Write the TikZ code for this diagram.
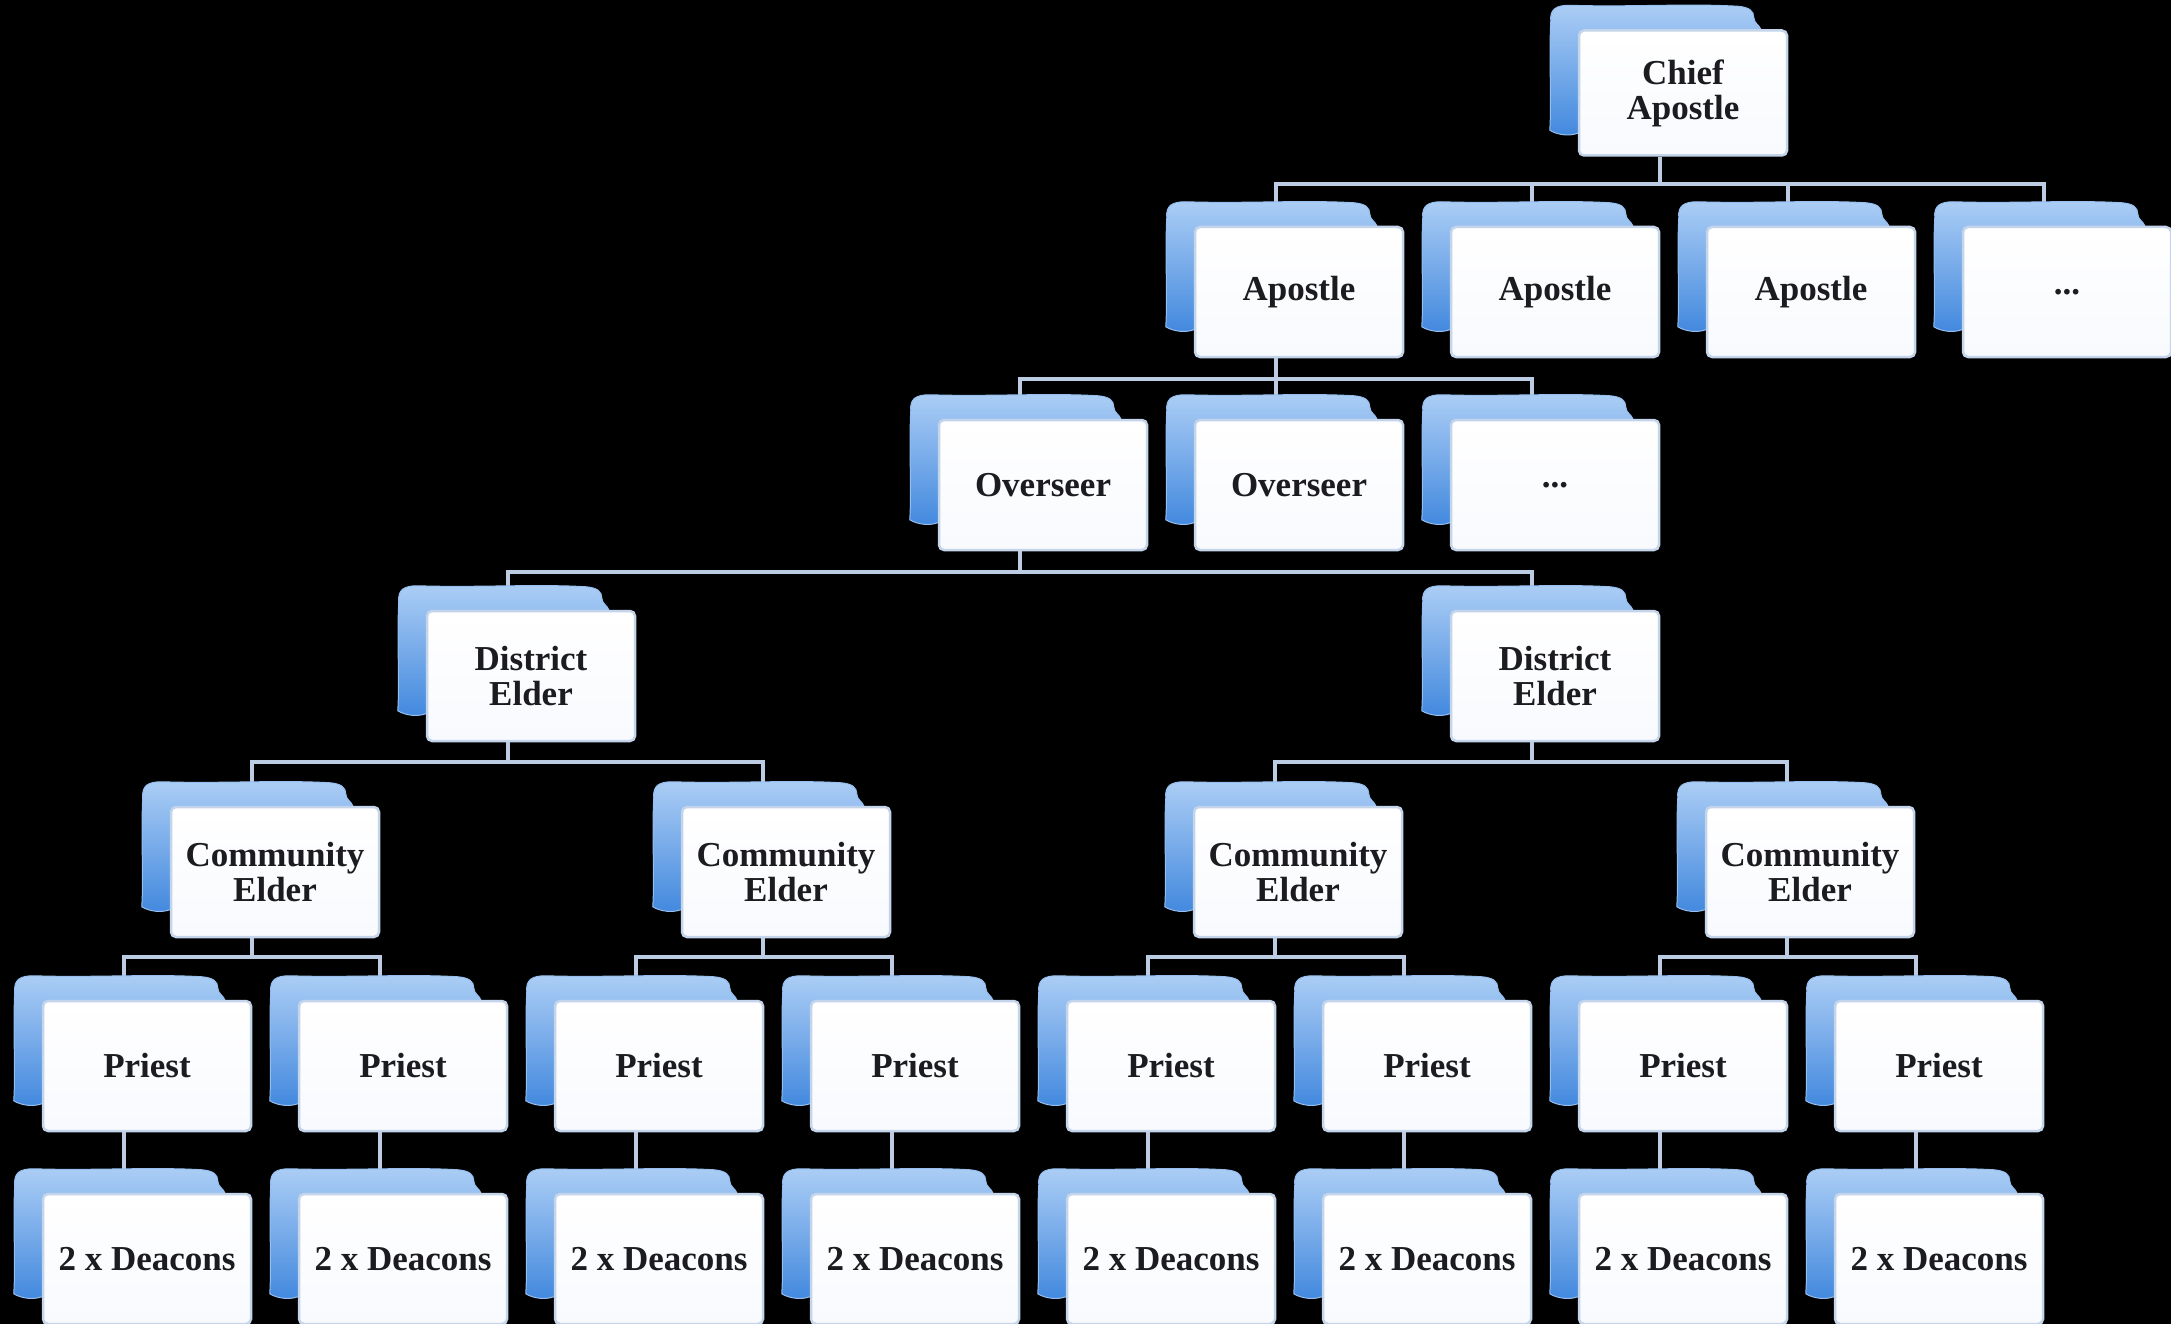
\documentclass[tikz,border=0pt]{standalone}
\usepackage{fontspec}
\setmainfont{Liberation Serif}
\definecolor{conncol}{RGB}{188,204,226}
\definecolor{cardedge}{RGB}{196,212,234}
\definecolor{cardfill}{RGB}{248,250,254}
\definecolor{backtop}{RGB}{172,206,245}
\definecolor{backbot}{RGB}{66,136,222}
\definecolor{backedge}{RGB}{150,190,238}
\definecolor{txt}{RGB}{28,28,32}
\pgfdeclarelayer{bg}
\pgfsetlayers{bg,main}
\newcommand\linkto[3][22]{\draw[conn] ([xshift=-23pt]#2.south) -- ++(0,#1) -| ([xshift=-23pt,yshift=23pt]#3.north);}
\newcommand\linkdown[2]{\draw[conn] ([xshift=-23pt]#1.south) -- ([xshift=-23pt,yshift=23pt]#2.north);}
\begin{document}
\begin{tikzpicture}[x=1pt,y=-1pt,
  card/.style={draw=cardedge, line width=2.5pt, rounded corners=5pt, top color=white, bottom color=cardfill,
    minimum width=208pt, minimum height=130pt, inner sep=0pt, align=center,
    font=\fontsize{35}{35}\selectfont\bfseries, text=txt},
  conn/.style={draw=conncol, line width=4pt},
  backsh/.style={top color=backtop, bottom color=backbot, draw=backedge, line width=1pt}]
\useasboundingbox (0,0) rectangle (2171,1324);
\begin{pgfonlayer}{bg}
\fill[black] (0,0) rectangle (2171,1324);
\end{pgfonlayer}
% row 0
\node[card, minimum height=125pt] (chief) at (1683,93) {Chief\\Apostle};
% row 1
\node[card] (a1) at (1299,292) {Apostle};
\node[card] (a2) at (1555,292) {Apostle};
\node[card] (a3) at (1811,292) {Apostle};
\node[card] (a4) at (2067,292) {...};
% row 2
\node[card] (o1) at (1043,485) {Overseer};
\node[card] (o2) at (1299,485) {Overseer};
\node[card] (o3) at (1555,485) {...};
% row 3
\node[card] (d1) at (531,676) {District\\Elder};
\node[card] (d2) at (1555,676) {District\\Elder};
% row 4
\node[card] (c1) at (275,872) {Community\\Elder};
\node[card] (c2) at (786,872) {Community\\Elder};
\node[card] (c3) at (1298,872) {Community\\Elder};
\node[card] (c4) at (1810,872) {Community\\Elder};
% row 5
\node[card] (p1) at (147,1066) {Priest};
\node[card] (p2) at (403,1066) {Priest};
\node[card] (p3) at (659,1066) {Priest};
\node[card] (p4) at (915,1066) {Priest};
\node[card] (p5) at (1171,1066) {Priest};
\node[card] (p6) at (1427,1066) {Priest};
\node[card] (p7) at (1683,1066) {Priest};
\node[card] (p8) at (1939,1066) {Priest};
% row 6
\node[card] (q1) at (147,1259) {2 x Deacons};
\node[card] (q2) at (403,1259) {2 x Deacons};
\node[card] (q3) at (659,1259) {2 x Deacons};
\node[card] (q4) at (915,1259) {2 x Deacons};
\node[card] (q5) at (1171,1259) {2 x Deacons};
\node[card] (q6) at (1427,1259) {2 x Deacons};
\node[card] (q7) at (1683,1259) {2 x Deacons};
\node[card] (q8) at (1939,1259) {2 x Deacons};
\begin{pgfonlayer}{bg}
% connectors
\foreach \c in {a1,a2,a3,a4} {\linkto[27]{chief}{\c}}
\foreach \c in {o1,o2,o3} {\linkto[21]{a1}{\c}}
\foreach \c in {d1,d2} {\linkto[21]{o1}{\c}}
\foreach \c in {c1,c2} {\linkto[20]{d1}{\c}}
\foreach \c in {c3,c4} {\linkto[20]{d2}{\c}}
\foreach \c in {p1,p2} {\linkto[19]{c1}{\c}}
\foreach \c in {p3,p4} {\linkto[19]{c2}{\c}}
\foreach \c in {p5,p6} {\linkto[19]{c3}{\c}}
\foreach \c in {p7,p8} {\linkto[19]{c4}{\c}}
\foreach \i in {1,...,8} {\linkdown{p\i}{q\i}}
% back shapes
\foreach \n in {chief,a1,a2,a3,a4,o1,o2,o3,d1,d2,c1,c2,c3,c4,p1,p2,p3,p4,p5,p6,p7,p8,q1,q2,q3,q4,q5,q6,q7,q8} {
  \begin{scope}[shift={(\n.north west)}]
  \path[backsh] (-27,-8) .. controls (-28,-20) and (-22,-24) .. (-8,-24)
     .. controls (50,-22) and (110,-26) .. (160,-23)
     .. controls (172,-22) and (176,-18) .. (176,-12)
     .. controls (176,-6) and (182,-4) .. (183,0) -- (183,100) -- (0,104)
     .. controls (-8,107) and (-20,106) .. (-28,101)
     .. controls (-26,70) and (-29,30) .. (-27,-8) -- cycle;
  \end{scope}
}
\end{pgfonlayer}
\end{tikzpicture}
\end{document}
